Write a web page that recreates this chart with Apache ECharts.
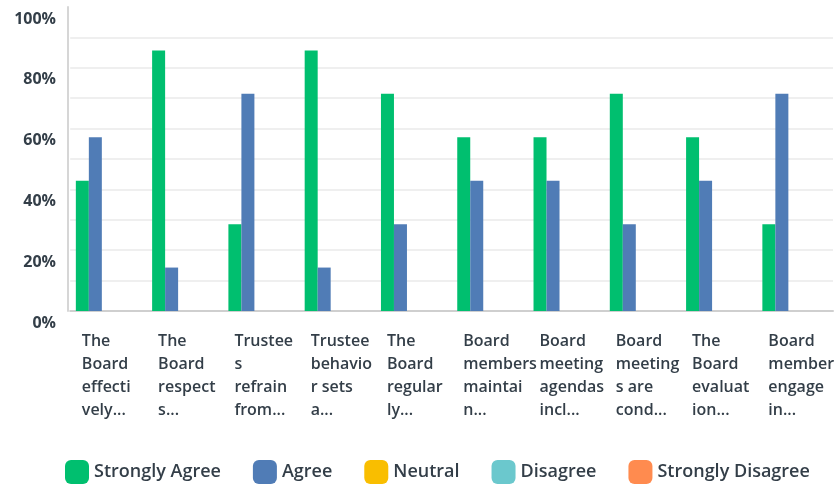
<!DOCTYPE html>
<html>
<head>
<meta charset="utf-8">
<script src="https://cdn.jsdelivr.net/npm/echarts@6/dist/echarts.min.js"></script>
<style>
html,body{margin:0;padding:0;background:#fff;}
#chart{width:837px;height:485px;}
</style>
</head>
<body>
<div id="chart"></div>
<script>
// Data
const categories = [
  "The\nBoard\neffecti\nvely...",
  "The\nBoard\nrespect\ns...",
  "Trustee\ns\nrefrain\nfrom...",
  "Trustee\nbehavio\nr sets\na...",
  "The\nBoard\nregular\nly...",
  "Board\nmembers\nmaintai\nn...",
  "Board\nmeeting\nagendas\nincl...",
  "Board\nmeeting\ns are\ncond...",
  "The\nBoard\nevaluat\nion...",
  "Board\nmember\nengage\nin..."
];
const seriesNames = ["Strongly Agree", "Agree", "Neutral", "Disagree", "Strongly Disagree"];
const stronglyAgree = [42.86, 85.71, 28.57, 85.71, 71.43, 57.14, 57.14, 71.43, 57.14, 28.57];
const agree = [57.14, 14.29, 71.43, 14.29, 28.57, 42.86, 42.86, 28.57, 42.86, 71.43];
const neutral = [0, 0, 0, 0, 0, 0, 0, 0, 0, 0];
const disagree = [0, 0, 0, 0, 0, 0, 0, 0, 0, 0];
const stronglyDisagree = [0, 0, 0, 0, 0, 0, 0, 0, 0, 0];
const yTicks = [0, 20, 40, 60, 80, 100];

const colors = ["#00bf6f", "#507cb6", "#f9be00", "#6bc8cd", "#ff8b4f"];
const textColor = "#333e48";
const font = "'Open Sans', sans-serif";

const chart = echarts.init(document.getElementById('chart'), null, {renderer: 'canvas'});
const values = [stronglyAgree, agree, neutral, disagree, stronglyDisagree];

chart.setOption({
  animation: false,
  color: colors,
  grid: {left: 70.2, right: 0, top: 7, bottom: 174, containLabel: false},
  legend: {
    data: seriesNames,
    left: 60,
    top: 455,
    icon: 'roundRect',
    itemWidth: 24,
    itemHeight: 24,
    itemGap: 32,
    selectedMode: false,
    textStyle: {fontFamily: font, fontSize: 18, fontWeight: 600, color: textColor}
  },
  xAxis: {
    type: 'category',
    data: categories,
    axisLine: {show: true, lineStyle: {color: '#cfcfcf', width: 2}},
    axisTick: {show: false},
    axisLabel: {
      interval: 0,
      margin: 19,
      align: 'center',
      verticalAlign: 'top',
      formatter: function (v) {
        return v.split('\n').map(function (l) { return '{a|' + l + '}'; }).join('\n');
      },
      rich: {
        a: {
          width: 53,
          align: 'left',
          fontFamily: font,
          fontSize: 16,
          fontWeight: 600,
          color: textColor,
          lineHeight: 23
        }
      }
    }
  },
  yAxis: {
    type: 'value',
    min: 0,
    max: 100,
    interval: 20,
    offset: 2.2,
    axisLine: {show: true, lineStyle: {color: '#d6d6d6', width: 2}},
    axisTick: {show: false},
    splitLine: {show: true, showMaxLine: false, lineStyle: {color: '#efefef', width: 2}},
    minorTick: {show: false, splitNumber: 2},
    minorSplitLine: {show: true, lineStyle: {color: '#efefef', width: 2}},
    axisLabel: {
      margin: 12,
      verticalAlign: 'top',
      padding: [4, 0, 0, 0],
      fontFamily: font,
      fontSize: 16,
      fontWeight: 700,
      color: textColor,
      formatter: function (v) { return yTicks.indexOf(v) >= 0 ? v + '%' : ''; }
    }
  },
  series: seriesNames.map(function (name, i) {
    return {
      name: name,
      type: 'bar',
      data: values[i],
      barWidth: 13,
      barGap: '0%',
      itemStyle: {color: colors[i]}
    };
  })
});
</script>
</body>
</html>
